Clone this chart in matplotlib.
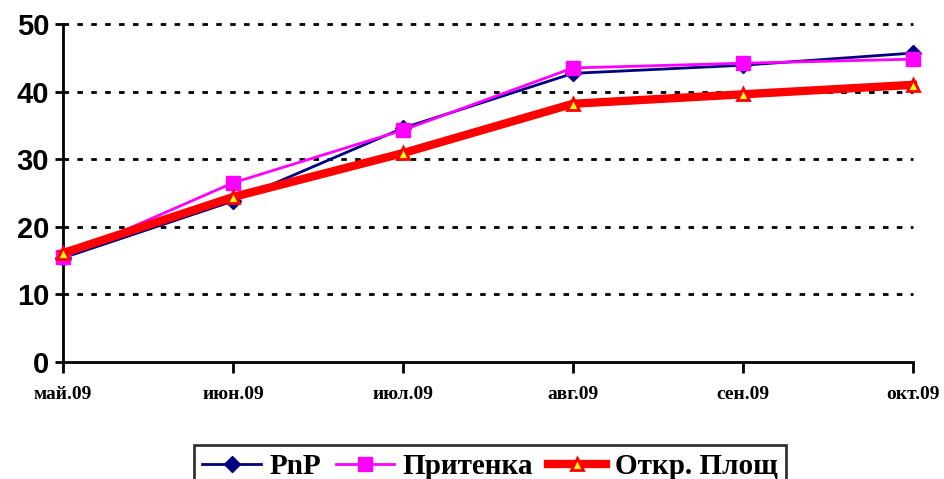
import numpy as np
import matplotlib.pyplot as plt

months = ['май.09', 'июн.09', 'июл.09', 'авг.09', 'сен.09', 'окт.09']
pnp = [15.4, 23.8, 34.6, 42.7, 43.9, 45.7]
pritenka = [15.5, 26.5, 34.3, 43.5, 44.2, 44.8]
otkr = [16.1, 24.4, 30.9, 38.2, 39.6, 41.0]

fig = plt.figure(figsize=(9.45, 4.79), dpi=100)
ax = fig.add_axes([63/945, 1-362/479, 850/945, 338/479])

x = np.arange(len(months))
ax.plot(x, pnp, color='#000080', lw=2, marker='D', ms=8, mfc='#000080', mec='#000080',
        label='PnP', zorder=3, clip_on=False)
ax.plot(x, pritenka, color='#FF00FF', lw=2, marker='s', ms=10, mfc='#FF00FF', mec='#FF00FF',
        label='Притенка', zorder=4, clip_on=False)
ax.plot(x, otkr, color='#FF0000', lw=6, marker='^', ms=9, mfc='#FFFF00', mec='#FF0000', mew=2,
        label='Откр. Площ', zorder=5, clip_on=False)

ax.set_xlim(0, len(months) - 1)
ax.set_ylim(0, 50)
ax.set_yticks(range(0, 51, 10))
ax.set_xticks(x)
ax.set_xticklabels(months, fontfamily='Liberation Serif', fontweight='bold', fontsize=14)
for lab in ax.get_yticklabels():
    lab.set_fontfamily('Liberation Sans')
    lab.set_fontweight('bold')
    lab.set_fontsize(21)

for yv in range(10, 51, 10):
    ax.axhline(yv, color='black', lw=2, ls=(0, (2, 3)), zorder=1, clip_on=False)

for s in ['top', 'right']:
    ax.spines[s].set_visible(False)
for s in ['left', 'bottom']:
    ax.spines[s].set_linewidth(2)
ax.tick_params(axis='x', length=8, width=2, pad=9)
ax.tick_params(axis='y', length=6, width=2, pad=4)

leg = fig.legend(loc='upper center', bbox_to_anchor=(490/945, 1-430/479), ncol=3,
                 prop={'family': 'Liberation Serif', 'weight': 'bold', 'size': 21},
                 frameon=True, fancybox=False, edgecolor='black',
                 handlelength=2.0, handletextpad=0.3, columnspacing=0.5, borderpad=0.3)
leg.get_frame().set_linewidth(2)

fig.savefig('out.png', dpi=100)
